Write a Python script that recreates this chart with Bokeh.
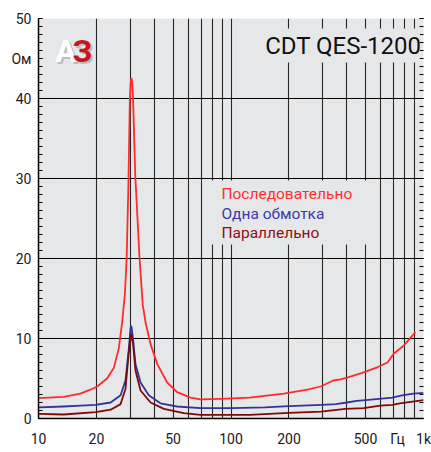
from bokeh.plotting import figure
from bokeh.models import FixedTicker, LinearAxis, Label, BoxAnnotation
from bokeh.embed import file_html
from bokeh.resources import INLINE

# ---- data (impedance, Ohm vs frequency, Hz) ----
series_f = [10, 13.5, 16.5, 18.6, 20.2, 22.7, 24.6, 26.1, 27.2, 27.7, 28.1, 28.7, 29.3, 29.8,
            30.1, 30.3, 30.5, 30.7, 31.0, 31.8, 32.2, 33.5, 34.8, 36.0, 38.2, 41.4, 46.6, 52.5,
            61.6, 69.4, 88, 125, 188, 250, 292, 340, 370, 401, 480, 575, 650, 700, 789, 908]
series_z = [2.55, 2.7, 3.1, 3.6, 4.0, 5.0, 6.3, 8.7, 12.0, 14.0, 15.5, 20.0, 29.0, 39.5,
            42.0, 42.5, 42.4, 41.8, 40.0, 30.5, 28.0, 20.0, 14.2, 12.0, 9.3, 6.8, 4.5, 3.3,
            2.6, 2.4, 2.45, 2.6, 3.1, 3.6, 4.0, 4.75, 4.9, 5.1, 5.7, 6.4, 7.0, 8.1, 9.1, 10.8]

single_f = [10, 13.5, 16.5, 19.8, 23.7, 26.7, 28.3, 29.4, 30.1, 30.4, 30.9, 31.9, 33.9, 37.4,
            43.0, 52.5, 69.4, 100, 150, 200, 296, 350, 400, 450, 500, 587, 688, 774, 888, 1000]
single_z = [1.4, 1.5, 1.6, 1.7, 2.0, 2.9, 4.75, 8.5, 11.4, 11.5, 10.2, 6.8, 4.5, 2.9,
            1.9, 1.5, 1.3, 1.3, 1.4, 1.55, 1.7, 1.8, 2.0, 2.2, 2.3, 2.45, 2.6, 2.9, 3.1, 3.2]

parallel_f = [10, 13.5, 19.8, 23.7, 26.7, 28.3, 29.4, 30.2, 31.0, 31.9, 33.9, 38.2, 44.8,
              56.9, 69.4, 100, 125, 200, 293, 394, 489, 596, 688, 754, 1000]
parallel_z = [0.58, 0.5, 0.8, 1.1, 1.8, 3.7, 8.1, 10.6, 9.3, 6.0, 3.5, 2.0, 1.2,
              0.67, 0.46, 0.45, 0.45, 0.7, 0.87, 1.2, 1.3, 1.6, 1.7, 1.9, 2.3]

x_ticks = [10, 20, 50, 100, 200, 500, 733, 1000]
x_tick_labels = ["10", "20", "50", "100", "200", "500", "Гц", "1k"]
x_grid = [20, 30, 40, 50, 60, 70, 80, 90, 100, 200, 300, 400, 500, 600, 700, 800, 900]
y_ticks = [0, 10, 20, 30, 40, 45, 50]
y_tick_labels = ["0", "10", "20", "30", "40", "Ом", "50"]
y_minor = list(range(0, 51))
y_grid = [10, 20, 30, 40]

legend_names = ["Последовательно", "Одна обмотка", "Параллельно"]
line_colors = ["#ff2b2b", "#33339e", "#7d0a0a"]
text_colors = ["#ff2f2f", "#3a3aa8", "#8a1010"]

BG = "#e6e7e9"
FONT = "Roboto"

p = figure(width=431, height=452, x_axis_type="log", x_range=(10, 1000), y_range=(0, 50),
           output_backend="svg", toolbar_location=None,
           min_border_left=38, min_border_right=8, min_border_top=18, min_border_bottom=34)
p.background_fill_color = BG
p.border_fill_color = "white"
p.outline_line_color = None

# x axis
xa = p.xaxis[0]
xa.ticker = FixedTicker(ticks=x_ticks)
xa.major_label_overrides = {t: l for t, l in zip(x_ticks, x_tick_labels)}
xa.major_tick_line_color = None
xa.minor_tick_line_color = None
xa.axis_line_color = "black"
xa.axis_line_width = 1.5
xa.major_label_standoff = 6
xa.major_label_text_font = FONT
xa.major_label_text_font_size = "14px"
xa.major_label_text_color = "#1a1a1a"

# y axis (left)
ya = p.yaxis[0]
ya.ticker = FixedTicker(ticks=y_ticks, minor_ticks=y_minor)
ya.major_label_overrides = {t: l for t, l in zip(y_ticks, y_tick_labels)}
ya.axis_line_color = "black"
ya.axis_line_width = 1.5
ya.major_tick_in = 4
ya.major_tick_out = 0
ya.minor_tick_in = 4
ya.minor_tick_out = 0
ya.major_tick_line_color = "black"
ya.minor_tick_line_color = "black"
ya.major_label_standoff = 7
ya.major_label_text_font = FONT
ya.major_label_text_font_size = "14px"
ya.major_label_text_color = "#1a1a1a"

# right axis with inside ticks only
ra = LinearAxis(ticker=FixedTicker(ticks=[0, 10, 20, 30, 40, 50], minor_ticks=y_minor),
                axis_line_color=None, major_tick_in=4, major_tick_out=0,
                minor_tick_in=4, minor_tick_out=0,
                major_label_standoff=0, major_tick_line_color="black",
                minor_tick_line_color="black")
ra.major_label_overrides = {t: "" for t in [0, 10, 20, 30, 40, 50]}
p.add_layout(ra, "right")

# grids
p.xgrid.ticker = FixedTicker(ticks=x_grid)
p.xgrid.grid_line_color = "#262626"
p.xgrid.grid_line_width = 1.1
p.ygrid.ticker = FixedTicker(ticks=y_grid)
p.ygrid.grid_line_color = "black"
p.ygrid.grid_line_width = 1.1

# curves
p.line(series_f, series_z, line_color=line_colors[0], line_width=1.8, line_join="round")
p.line(single_f, single_z, line_color=line_colors[1], line_width=1.8, line_join="round")
p.line(parallel_f, parallel_z, line_color=line_colors[2], line_width=1.8, line_join="round")

# boxes hiding the grid behind title and legend
p.add_layout(BoxAnnotation(left=134, right=955, bottom=44.5, top=48.75,
                           fill_color=BG, fill_alpha=1, line_color=None))
p.add_layout(BoxAnnotation(left=73.7, right=543, bottom=21.75, top=29.75,
                           fill_color=BG, fill_alpha=1, line_color=None))

# title
p.add_layout(Label(x=976, y=46.6, text="CDT QES-1200", text_align="right",
                   text_baseline="middle", text_font=FONT, text_font_size="24px",
                   text_color="#111111"))

# legend texts
for name, col, yy in zip(legend_names, text_colors, [28.1, 25.6, 23.25]):
    p.add_layout(Label(x=89.2, y=yy, text=name, text_align="left", text_baseline="middle",
                       text_font=FONT, text_font_size="15.5px", text_color=col))

# logo
for txt, xx, col in [("А", 13.9, "white"), ("З", 16.9, "#c8161d")]:
    p.add_layout(Label(x=xx, y=46.0, text=txt, text_align="center", text_baseline="middle",
                       text_font=FONT, text_font_size="32px", text_font_style="bold",
                       text_color="#888888", text_alpha=0.45, x_offset=2, y_offset=-2))
    p.add_layout(Label(x=xx, y=46.0, text=txt, text_align="center", text_baseline="middle",
                       text_font=FONT, text_font_size="32px", text_font_style="bold",
                       text_color=col))

open("out.html", "w").write(file_html(p, INLINE))
